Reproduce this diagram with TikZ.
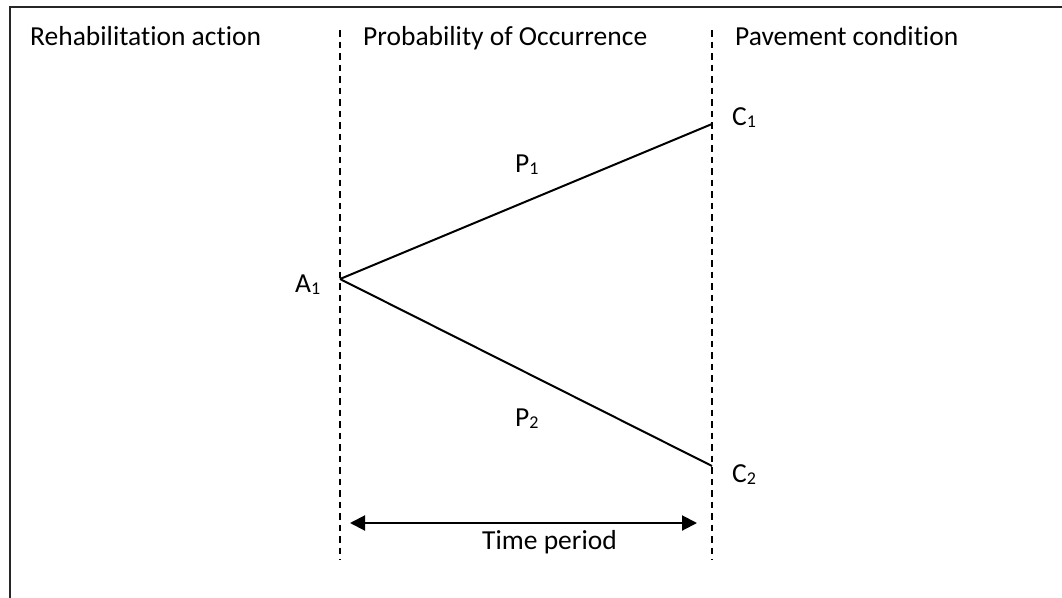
\documentclass[tikz,border=0pt]{standalone}
\usepackage{fontspec}
\setmainfont{Carlito}[Ligatures={NoCommon,NoContextual}]
\usetikzlibrary{arrows.meta}
\newcommand\sbs[1]{\raisebox{-2.5pt}{\fontsize{18}{18}\selectfont #1}}
\tikzset{
  lbl/.style={anchor=base west, inner sep=0pt, font=\fontsize{27.5}{30}\selectfont},
  sepline/.style={line width=1.6pt, dash pattern=on 6.5pt off 5pt},
  branch/.style={line width=2pt},
  frame/.style={line width=2pt, draw=black!85},
  span/.style={line width=2pt, {Triangle[length=15pt,width=15pt]}-{Triangle[length=15pt,width=15pt]}}
}
\begin{document}
\begin{tikzpicture}[x=1pt,y=-1pt]
\useasboundingbox (0,0) rectangle (1062,597);
% frame (cut off at right and bottom)
\draw[frame] (10,600) -- (10,7) -- (1065,7);
% column separators
\coordinate (d1t) at (340,30);
\coordinate (d1b) at (340,560);
\coordinate (d2t) at (712,30);
\coordinate (d2b) at (712,560);
\draw[sepline] (d1t) -- (d1b);
\draw[sepline] (d2t) -- (d2b);
% headings
\node[lbl] (h1) at (30,45) {Rehabilitat\kern0pt ion act\kern0pt ion};
\node[lbl] (h2) at (363,45) {Probability of Occurrence};
\node[lbl] (h3) at (735,45) {Pavement condit\kern0pt ion};
% branches
\coordinate (a1) at (340,279);
\coordinate (c1) at (712,124);
\coordinate (c2) at (712,466);
\draw[branch] (a1) -- (c1);
\draw[branch] (a1) -- (c2);
\node[lbl] (A1) at (295,292) {A\sbs{1}};
\node[lbl] (C1) at (732,125) {C\sbs{1}};
\node[lbl] (C2) at (732,482) {C\sbs{2}};
\node[lbl] (P1) at (515,172) {P\sbs{1}};
\node[lbl] (P2) at (515,426) {P\sbs{2}};
% time period
\coordinate (tl) at (350,523);
\coordinate (tr) at (697,523);
\draw[span] (tl) -- (tr);
\node[lbl] (tp) at (482,549) {Time period};
\end{tikzpicture}
\end{document}
